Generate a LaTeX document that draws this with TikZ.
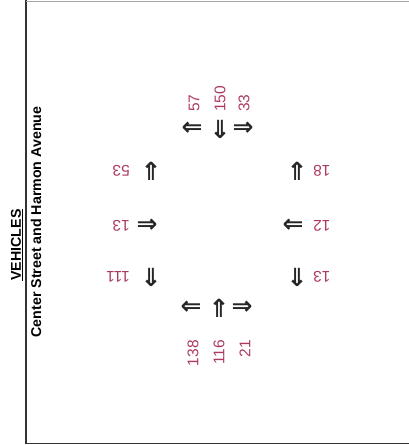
\documentclass[tikz,border=0pt]{standalone}
\usepackage{fontspec}
\setmainfont{Liberation Sans}
\newfontfamily\arrowfont{DejaVu Sans}
\usepackage{tikz}
\usetikzlibrary{positioning}

\definecolor{countred}{RGB}{172,58,96}

\tikzset{
    count/.style={inner sep=0pt, text=countred, font=\fontsize{15.5}{16}\selectfont},
    dirarrow/.style={inner sep=0pt, text=black!85, font=\arrowfont\bfseries\fontsize{25}{25}\selectfont},
    titletext/.style={inner sep=0pt, rotate=90, font=\bfseries\fontsize{14.2}{15}\selectfont}
}

\begin{document}
\begin{tikzpicture}[x=1pt,y=-1pt]
    \useasboundingbox (0,0) rectangle (409,445);
    % frame
    \draw[line width=1.2pt, black!80] (26,0) -- (26,443.5) -- (409,443.5);
    \draw[line width=1pt, black!35] (26,1) -- (409,1);
    % title
    \node[titletext] (title) at (17,245) {\underline{VEHICLES}};
    \node[titletext] (street) at (36,222) {Center Street and Harmon Avenue};
    % north approach
    \node[dirarrow] (nl) at (192,129) {⇐};
    \node[dirarrow] (nt) at (220,129) {⇓};
    \node[dirarrow] (nr) at (243,129) {⇒};
    \node[count, rotate=90, anchor=west] (nlc) at (194,112) {57};
    \node[count, rotate=90, anchor=west] (ntc) at (220,112) {150};
    \node[count, rotate=90, anchor=west] (nrc) at (244,112) {33};
    % west approach
    \node[dirarrow] (wl) at (151,171) {⇑};
    \node[dirarrow] (wt) at (147,226) {⇒};
    \node[dirarrow] (wr) at (151,277) {⇓};
    \node[count, rotate=180, anchor=west] (wlc) at (130,171) {53};
    \node[count, rotate=180, anchor=west] (wtc) at (130,226) {13};
    \node[count, rotate=180, anchor=west] (wrc) at (130,277) {111};
    % east approach
    \node[dirarrow] (er) at (297,171) {⇑};
    \node[dirarrow] (et) at (293,226) {⇐};
    \node[dirarrow] (el) at (297,277) {⇓};
    \node[count, rotate=180, anchor=east] (erc) at (313,171) {18};
    \node[count, rotate=180, anchor=east] (etc) at (313,226) {12};
    \node[count, rotate=180, anchor=east] (elc) at (313,277) {13};
    % south approach
    \node[dirarrow] (sl) at (191,308) {⇐};
    \node[dirarrow] (st) at (219,308) {⇑};
    \node[dirarrow] (sr) at (242,308) {⇒};
    \node[count, rotate=90, anchor=east] (slc) at (193,340) {138};
    \node[count, rotate=90, anchor=east] (stc) at (219,340) {116};
    \node[count, rotate=90, anchor=east] (src) at (245,340) {21};
\end{tikzpicture}
\end{document}
